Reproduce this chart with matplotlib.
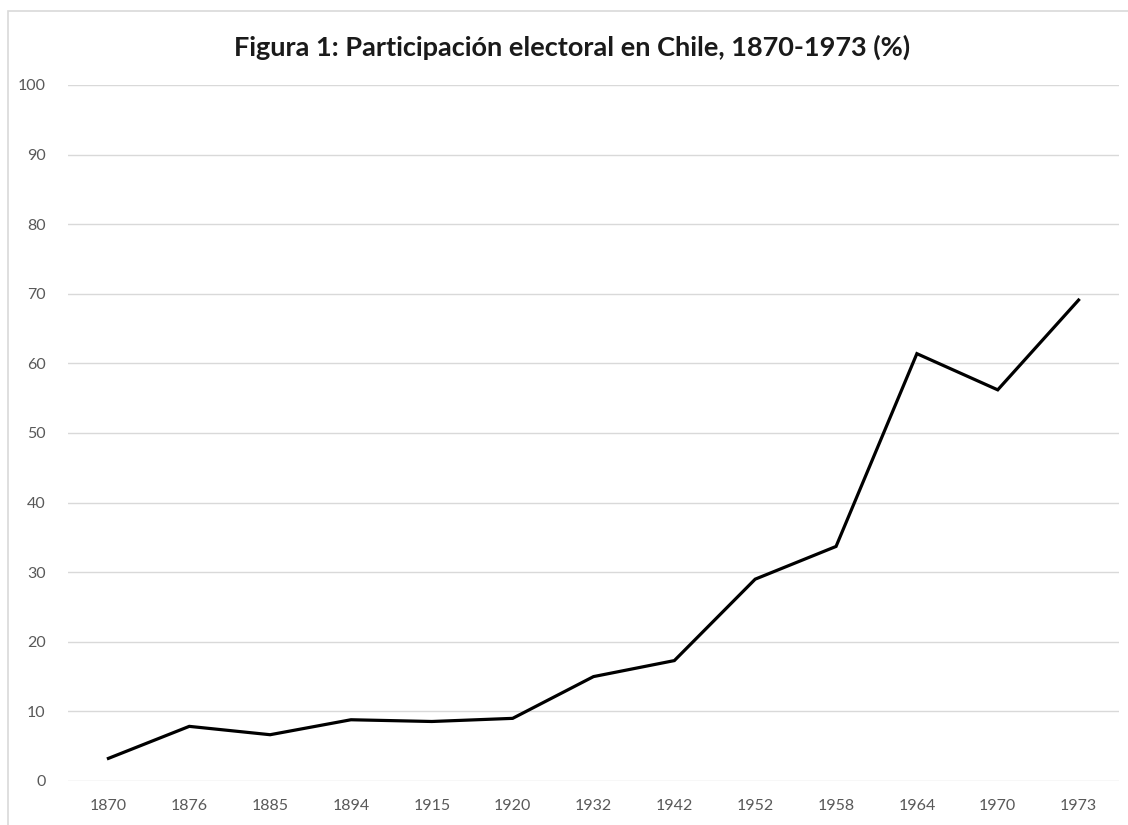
import matplotlib.pyplot as plt
from matplotlib.patches import Rectangle

# electoral turnout in Chile
years = ['1870', '1876', '1885', '1894', '1915', '1920', '1932',
         '1942', '1952', '1958', '1964', '1970', '1973']
turnout = [3.25, 7.85, 6.65, 8.8, 8.55, 9.0, 15.0,
           17.3, 29.0, 33.7, 61.4, 56.2, 69.1]
yticks = list(range(0, 101, 10))

plt.rcParams['font.family'] = ['Lato', 'DejaVu Sans']

W, H = 1128, 825
fig = plt.figure(figsize=(W / 100, H / 100), dpi=100)
ax = fig.add_axes([68 / W, 1 - 781 / H, (1119 - 68) / W, (781 - 85) / H])

x = list(range(len(years)))
ax.plot(x, turnout, color='black', lw=2.3, solid_joinstyle='miter', zorder=3)

ax.set_xlim(-0.5, len(years) - 0.5)
ax.set_ylim(0, 100)
ax.set_xticks(x)
ax.set_xticklabels(years)
ax.set_yticks(yticks)
ax.grid(axis='y', color='#d9d9d9', lw=1)
ax.set_axisbelow(True)
for s in ax.spines.values():
    s.set_visible(False)
ax.tick_params(length=0, labelsize=11.5, labelcolor='#595959')
ax.tick_params(axis='y', pad=16)
ax.tick_params(axis='x', pad=13)

fig.text(572 / W, 1 - 47 / H, 'Figura 1: Participación electoral en Chile, 1870-1973 (%)',
         ha='center', va='center', fontsize=19.5, fontweight='bold', color='#1a1a1a')

# outer chart border
fig.patches.append(Rectangle((8 / W, -0.1), 1.2, 1 - 11 / H + 0.1,
                             transform=fig.transFigure, fill=False,
                             edgecolor='#d9d9d9', lw=1.2))

fig.savefig('out.png', dpi=100)
